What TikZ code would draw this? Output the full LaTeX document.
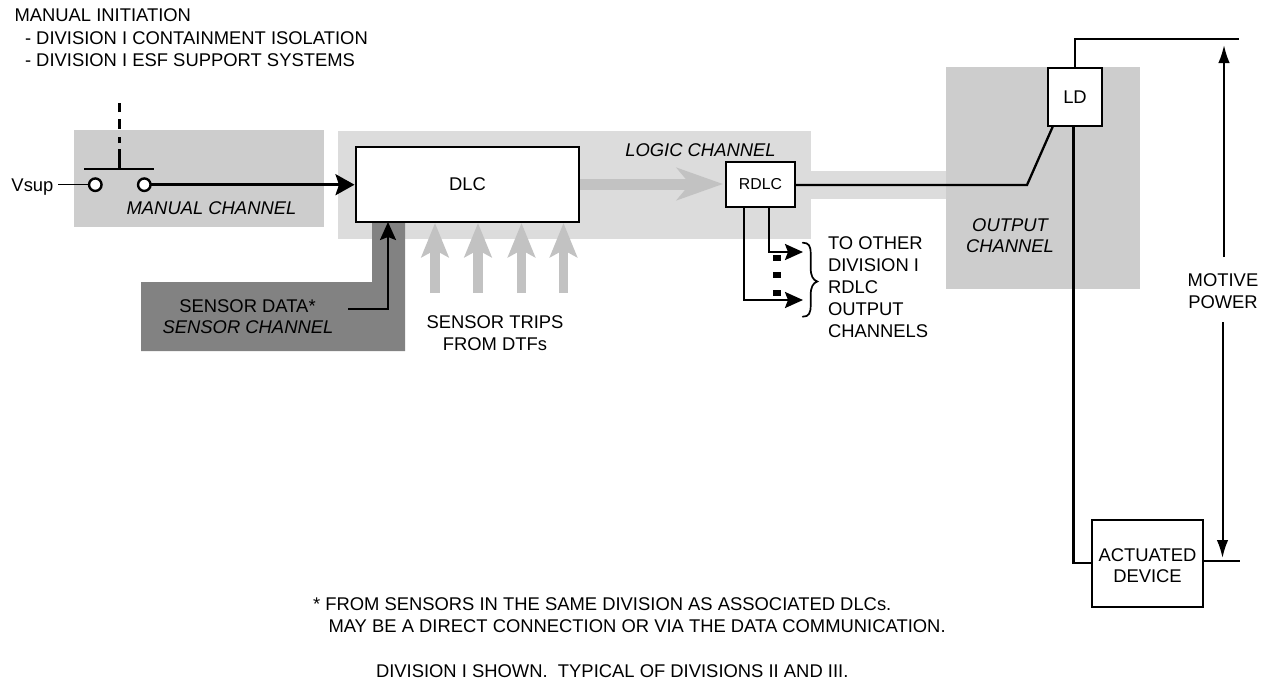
\documentclass[tikz,border=0pt]{standalone}
\usepackage{fontspec}
\setmainfont{Liberation Sans}
\usetikzlibrary{arrows.meta}
\definecolor{logicgray}{HTML}{DCDCDC}
\definecolor{manualgray}{HTML}{CDCDCD}
\definecolor{sensorgray}{HTML}{828282}
\definecolor{trickgray}{HTML}{C2C2C2}
\newcommand{\lblfont}{\fontsize{18.4}{21}\selectfont}
\tikzset{
  x=1pt,y=-1pt,
  boxnode/.style={draw=black,fill=white,line width=2.4pt,inner sep=0pt,outer sep=0pt,align=center,font=\lblfont},
  lbl/.style={anchor=base west,inner sep=0pt,outer sep=0pt,font=\lblfont},
  lblc/.style={anchor=base,inner sep=0pt,outer sep=0pt,font=\lblfont},
  ilbl/.style={lblc,font=\lblfont\itshape},
  wire/.style={line width=2.3pt,black},
  thin wire/.style={line width=1.2pt,black},
  arrowed/.style={line width=2.7pt,black,-{Stealth[length=19pt,width=21pt,inset=3.5pt]},shorten >=1.5pt},
  sensorarrow/.style={wire,-{Stealth[length=18pt,width=16pt,inset=3pt]}},
  outarrow/.style={wire,-{Stealth[length=18pt,width=16pt,inset=3pt]}},
  motive/.style={line width=2pt,black,-{Latex[length=18pt,width=11.5pt]}},
  grayarrow/.style={line width=9.5pt,trickgray,-{Stealth[length=34pt,width=27pt,inset=7pt]}},
  terminal/.style={circle,draw=black,fill=white,line width=2.4pt,minimum size=12.5pt,inner sep=0pt,outer sep=0pt},
  dotmark/.style={fill=black,minimum width=7.5pt,minimum height=5.5pt,inner sep=0pt,outer sep=0pt},
}
\begin{document}
\begin{tikzpicture}
\useasboundingbox (0,0) rectangle (1272,683);
% shaded channels
\fill[logicgray] (338,131) rectangle (811,239);
\fill[logicgray] (811,171) rectangle (946,199);
\fill[manualgray] (74,130) rectangle (324,227);
\fill[manualgray] (946,67) rectangle (1140,289);
\fill[sensorgray] (141,282) -- (372,282) -- (372,222) -- (405,222) -- (405,351) -- (141,351) -- cycle;
% boxes
\node[boxnode,minimum width=223pt,minimum height=75pt] (dlc) at (467.5,184.5) {DLC};
\node[boxnode,minimum width=69pt,minimum height=45pt,font=\fontsize{15.8}{18}\selectfont] (rdlc) at (760.5,184.5) {RDLC};
\node[boxnode,minimum width=54pt,minimum height=58pt] (ld) at (1075,97) {LD};
\node[boxnode,minimum width=111pt,minimum height=87pt] (act) at (1147.5,563.5) {\rule{0pt}{18.1pt}ACTUATED\\DEVICE};
% switch
\node[terminal] (t1) at (95.3,184.7) {};
\node[terminal] (t2) at (144.3,184.7) {};
\coordinate (vs) at (58,184.7);
\coordinate (barl) at (84,169);
\coordinate (barr) at (154,169);
\coordinate (barm) at (119.3,169);
\coordinate (stemm) at (119.3,149);
\coordinate (stemd) at (119.3,143);
\coordinate (stemt) at (119.3,103);
\draw[thin wire] (vs) -- (t1);
\draw[wire,line width=2.5pt] (barl) -- (barr);
\draw[wire,line width=2.5pt] (barm) -- (stemm);
\draw[line width=2.5pt,dash pattern=on 6pt off 8pt on 10pt off 7pt on 9pt off 0pt] (stemd) -- (stemt);
\draw[arrowed] (t2) -- (dlc.west |- t2);
% sensor
\coordinate (sd) at (348,309);
\coordinate (sdc) at (388,309);
\draw[sensorarrow] (sd) -- (sdc) -- (sdc |- dlc.south);
% sensor trips
\foreach \n/\x in {a/435,b/478,c/521.5,d/563.5}{
  \coordinate (trip\n) at (\x,293);
  \coordinate (tripend\n) at (\x,223);
  \draw[grayarrow] (trip\n) -- (tripend\n);
}
% logic arrow
\coordinate (lga) at (580,184);
\coordinate (lgb) at (723,184);
\draw[line width=11pt,trickgray,-{Stealth[length=46pt,width=32pt,inset=13pt]}] (lga) -- (lgb);
% rdlc out
\coordinate (bend) at (1027,185);
\coordinate (ldin) at (1053,126);
\draw[wire,line join=miter] (rdlc.east |- bend) -- (bend) -- (ldin);
% outputs
\coordinate (o1a) at (769,207);
\coordinate (o1b) at (769,252);
\coordinate (o1c) at (803,252);
\coordinate (o2a) at (744,207);
\coordinate (o2b) at (744,300);
\coordinate (o2c) at (803,300);
\draw[outarrow] (o1a) -- (o1b) -- (o1c);
\draw[outarrow] (o2a) -- (o2b) -- (o2c);
\node[dotmark] (d1) at (777,258) {};
\node[dotmark] (d2) at (777,275) {};
\node[dotmark] (d3) at (777,293) {};
% brace
\draw[line width=1.7pt,line cap=round] (802.7,242.7) .. controls (809,242.7) and (810.7,246) .. (810.7,254) -- (810.7,268) .. controls (810.7,276) and (813,280) .. (817.3,281.5) .. controls (813,283) and (810.7,287) .. (810.7,295) -- (810.7,305) .. controls (810.7,313) and (809,316.7) .. (802.7,316.7);
% LD wires
\coordinate (topc) at (1075,39);
\coordinate (tope) at (1239,39);
\draw[wire] (ld.north) -- (topc) -- (tope);
\coordinate (botc) at (1073.5,562.7);
\draw[wire] (ld.south -| botc) -- (botc) -- (act.west |- botc);
\coordinate (acte) at (1240,561);
\draw[wire] (act.east |- acte) -- (acte);
% motive
\coordinate (m1) at (1224,257);
\coordinate (m2) at (1224,45);
\coordinate (m3) at (1222.5,322);
\coordinate (m4) at (1222.5,558);
\draw[motive] (m1) -- (m2);
\draw[motive] (m3) -- (m4);
% text
\node[lbl] (t-a) at (14.5,21.7) {MANUAL INITIATION};
\node[lbl] (t-b) at (25,44.3) {- DIVISION I CONTAINMENT ISOLATION};
\node[lbl] (t-c) at (25,66.7) {- DIVISION I ESF SUPPORT SYSTEMS};
\node[lbl] (t-v) at (11.5,191.7) {Vsup};
\node[ilbl] (t-m) at (211.5,214) {MANUAL CHANNEL};
\node[ilbl] (t-l) at (700.5,156) {LOGIC CHANNEL};
\node[ilbl] (t-o1) at (1010,231) {OUTPUT};
\node[ilbl] (t-o2) at (1010,252.5) {CHANNEL};
\node[lblc] (t-sd) at (247.5,312) {SENSOR DATA*};
\node[ilbl] (t-sc) at (248,333) {SENSOR CHANNEL};
\node[lblc] (t-st1) at (495,328) {SENSOR TRIPS};
\node[lblc] (t-st2) at (495,350.5) {FROM DTFs};
\node[lbl] (t-to1) at (828,249) {TO OTHER};
\node[lbl] (t-to2) at (828,271) {DIVISION I};
\node[lbl] (t-to3) at (828,293) {RDLC};
\node[lbl] (t-to4) at (828,315) {OUTPUT};
\node[lbl] (t-to5) at (828,337) {CHANNELS};
\node[lblc] (t-mp1) at (1223,286) {MOTIVE};
\node[lblc] (t-mp2) at (1223,308) {POWER};
\node[lbl] (t-n1) at (313,610) {* FROM SENSORS IN THE SAME DIVISION AS ASSOCIATED DLCs.};
\node[lbl] (t-n2) at (328.5,632) {MAY BE A DIRECT CONNECTION OR VIA THE DATA COMMUNICATION.};
\node[lbl] (t-n3) at (376,677) {DIVISION I SHOWN.\ \ TYPICAL OF DIVISIONS II AND III.};
\end{tikzpicture}
\end{document}
